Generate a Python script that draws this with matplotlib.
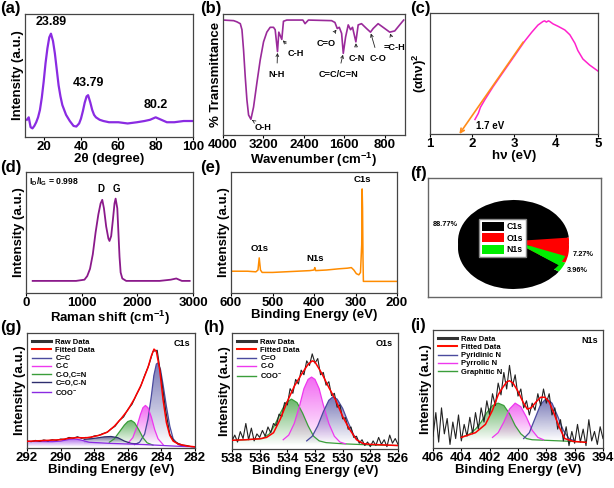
import numpy as np
import matplotlib.pyplot as plt
import matplotlib.colors as mcolors
import matplotlib.patheffects as pe
from matplotlib.lines import Line2D
from matplotlib.patches import Patch

plt.rcParams.update({
    'font.family': ['Liberation Sans', 'DejaVu Sans'],
    'font.weight': 'bold',
    'axes.labelweight': 'bold',
    'mathtext.fontset': 'custom',
    'mathtext.rm': 'Liberation Sans:bold',
    'mathtext.it': 'Liberation Sans:bold',
    'mathtext.bf': 'Liberation Sans:bold',
    'mathtext.default': 'rm',
})

# ---------------- (a) XRD ----------------
xrd_x = [11, 12, 13, 14, 15, 16, 17, 18, 19, 20, 21, 22, 23, 23.9, 25, 26, 27, 28, 29, 30,
         32, 34, 36, 37.5, 39, 40, 41, 42, 43, 43.8, 45, 46, 47, 48, 50, 52, 55, 60, 65, 70,
         74, 77, 80, 83, 86, 90, 95, 100]
xrd_y = [0.14, 0.16, 0.08, 0.07, 0.09, 0.12, 0.16, 0.22, 0.32, 0.45, 0.60, 0.72, 0.81, 0.84,
         0.78, 0.68, 0.55, 0.42, 0.33, 0.26, 0.18, 0.13, 0.09, 0.085, 0.11, 0.15, 0.21, 0.28,
         0.33, 0.34, 0.28, 0.22, 0.18, 0.16, 0.14, 0.13, 0.12, 0.12, 0.11, 0.12, 0.13, 0.14,
         0.16, 0.14, 0.12, 0.12, 0.13, 0.13]
xrd_peaks = [23.89, 43.79, 80.2]
xrd_peak_labels = ['23.89', '43.79', '80.2']

# ---------------- (b) FTIR ----------------
ir_x = [4000, 3790, 3724, 3658, 3625, 3593, 3560, 3527, 3494, 3448, 3396, 3330, 3264, 3198,
        3133, 3067, 3001, 2968, 2922, 2896, 2837, 2804, 2738, 2420, 2377, 2311, 1852, 1786,
        1740, 1700, 1654, 1621, 1575, 1523, 1477, 1438, 1372, 1326, 1260, 1161, 1083, 1030,
        932, 833, 702, 603, 505, 426]
ir_y = [0.95, 0.945, 0.935, 0.92, 0.87, 0.70, 0.48, 0.29, 0.165, 0.13, 0.23, 0.43, 0.62,
        0.77, 0.85, 0.89, 0.89, 0.87, 0.69, 0.85, 0.79, 0.94, 0.95, 0.95, 0.92, 0.95, 0.945,
        0.93, 0.88, 0.89, 0.84, 0.675, 0.81, 0.91, 0.87, 0.89, 0.77, 0.91, 0.92, 0.88, 0.85,
        0.88, 0.92, 0.89, 0.85, 0.86, 0.91, 0.95]
ir_bands = ['O-H', 'N-H', 'C-H', 'C=O', 'C=C/C=N', 'C-N', 'C-O', '=C-H']
ir_band_pos = [(3448, 0.13), (2922, 0.69), (2837, 0.79), (1740, 0.88), (1621, 0.675),
               (1372, 0.77), (1083, 0.85), (702, 0.85)]

# ---------------- (c) Tauc ----------------
tauc_x = [2.07, 2.15, 2.2, 2.3, 2.5, 2.7, 2.9, 3.1, 3.26, 3.42, 3.57, 3.69, 3.73, 3.77, 3.82,
          3.85, 3.93, 4.05, 4.21, 4.33, 4.45, 4.52, 4.64, 4.8, 5.0]
tauc_y = [0.12, 0.17, 0.22, 0.28, 0.39, 0.49, 0.59, 0.69, 0.77, 0.84, 0.90, 0.93, 0.935, 0.925,
          0.935, 0.93, 0.91, 0.89, 0.86, 0.82, 0.75, 0.69, 0.62, 0.57, 0.52]
band_gap = 1.7
tangent_top = (3.22, 0.76)

# ---------------- (d) Raman ----------------
raman_x = [120, 300, 500, 700, 900, 1050, 1100, 1150, 1200, 1250, 1300, 1340, 1370, 1400, 1440,
           1480, 1500, 1530, 1560, 1590, 1610, 1640, 1660, 1680, 1700, 1730, 1800, 2000, 2200,
           2400, 2600, 2700, 2800, 2940]
raman_y = [0.10, 0.10, 0.10, 0.10, 0.10, 0.11, 0.14, 0.20, 0.32, 0.50, 0.65, 0.74, 0.77, 0.70,
           0.55, 0.45, 0.43, 0.47, 0.60, 0.74, 0.78, 0.70, 0.50, 0.30, 0.17, 0.12, 0.10, 0.10,
           0.10, 0.10, 0.11, 0.12, 0.10, 0.10]
id_ig = 0.998

# ---------------- (e) XPS survey ----------------
xps_x = [600, 560, 540, 535, 532, 529, 525, 500, 470, 440, 410, 400, 398, 396, 370, 340, 320,
         310, 304, 298, 292, 288, 285, 284, 283, 282, 281, 200]
xps_y = [0.18, 0.18, 0.175, 0.19, 0.29, 0.19, 0.17, 0.17, 0.175, 0.18, 0.185, 0.19, 0.21,
         0.185, 0.19, 0.20, 0.205, 0.21, 0.19, 0.16, 0.15, 0.17, 0.40, 0.86, 0.70, 0.30,
         0.096, 0.096]
xps_labels = ['O1s', 'N1s', 'C1s']
xps_label_pos = [(531, 0.30), (398, 0.22), (284, 0.87)]

# ---------------- (f) composition ----------------
elements = ['C1s', 'O1s', 'N1s']
atomic_pct = [88.77, 7.27, 3.96]
pie_colors = ['black', 'red', '#00ee00']

# ---------------- (g) C1s ----------------
c1s_raw_x = [292, 291.75, 291.5, 291.25, 291, 290.75, 290.5, 290.25, 290, 289.75, 289.5, 289.25,
             289, 288.75, 288.5, 288.25, 288, 287.75, 287.5, 287.25, 287, 286.75, 286.5, 286.25,
             286, 285.75, 285.5, 285.25, 285, 284.75, 284.5, 284.25, 284, 283.75, 283.5, 283.25,
             283, 282.75, 282.5, 282.25, 282]
c1s_raw = [0.06, 0.055, 0.066, 0.058, 0.07, 0.062, 0.072, 0.066, 0.078, 0.074, 0.092, 0.085,
           0.098, 0.084, 0.092, 0.088, 0.105, 0.108, 0.125, 0.135, 0.165, 0.19, 0.24, 0.27,
           0.335, 0.38, 0.46, 0.53, 0.63, 0.72, 0.84, 0.85, 0.60, 0.33, 0.12, 0.06, 0.04,
           0.025, 0.022, 0.012, 0.01]
c1s_fit_x = [292, 291, 290, 289.5, 289, 288.5, 288, 287.6, 287.2, 286.8, 286.4, 286, 285.6,
             285.2, 284.8, 284.6, 284.44, 284.3, 284.1, 283.9, 283.7, 283.5, 283.3, 283, 282.5, 282]
c1s_fit = [0.058, 0.065, 0.072, 0.085, 0.09, 0.088, 0.1, 0.115, 0.14, 0.19, 0.255, 0.33, 0.43,
           0.55, 0.70, 0.80, 0.86, 0.84, 0.68, 0.42, 0.22, 0.11, 0.06, 0.035, 0.018, 0.01]
cc_x = [285.6, 285.3, 285.0, 284.8, 284.6, 284.45, 284.3, 284.2, 284.05, 283.9, 283.7, 283.5,
        283.3, 283.0, 282.7]
cc_y = [0.03, 0.05, 0.12, 0.25, 0.45, 0.63, 0.73, 0.74, 0.68, 0.55, 0.36, 0.19, 0.08, 0.03, 0.015]
csc_x = [286.0, 285.7, 285.45, 285.25, 285.1, 284.95, 284.8, 284.6, 284.4, 284.2, 283.9]
csc_y = [0.04, 0.09, 0.19, 0.29, 0.35, 0.37, 0.35, 0.27, 0.16, 0.08, 0.03]
co_x = [287.1, 286.8, 286.5, 286.2, 286.0, 285.8, 285.6, 285.35, 285.1, 284.85, 284.5]
co_y = [0.05, 0.08, 0.14, 0.20, 0.23, 0.24, 0.22, 0.16, 0.09, 0.045, 0.025]
cdo_x = [288.6, 288.2, 287.8, 287.4, 287.0, 286.6, 286.2, 285.8, 285.4]
cdo_y = [0.075, 0.08, 0.088, 0.097, 0.10, 0.09, 0.06, 0.04, 0.035]
coo_x = [292, 290.5, 290, 289.5, 289.2, 288.8, 288.3, 287, 285, 283, 282]
coo_y = [0.058, 0.055, 0.06, 0.075, 0.08, 0.07, 0.05, 0.04, 0.03, 0.015, 0.01]

# ---------------- (h) O1s ----------------
o1s_raw_x = [538.0, 537.8, 537.6, 537.4, 537.2, 537.0, 536.8, 536.6, 536.4, 536.2, 536.0, 535.8,
             535.6, 535.4, 535.2, 535.0, 534.8, 534.6, 534.4, 534.2, 534.0, 533.8, 533.6, 533.4,
             533.2, 533.0, 532.8, 532.6, 532.4, 532.2, 532.0, 531.8, 531.6, 531.4, 531.2, 531.0,
             530.8, 530.6, 530.4, 530.2, 530.0, 529.8, 529.6, 529.4, 529.2, 529.0, 528.8, 528.6,
             528.4, 528.2, 528.0, 527.8, 527.6, 527.4, 527.2, 527.0, 526.8, 526.6, 526.4, 526.2,
             526.0]
o1s_raw = [0.07, 0.12, 0.06, 0.15, 0.09, 0.22, 0.08, 0.18, 0.07, 0.13, 0.10, 0.16, 0.11, 0.19,
           0.14, 0.22, 0.20, 0.30, 0.28, 0.40, 0.38, 0.52, 0.48, 0.60, 0.56, 0.68, 0.64, 0.76,
           0.72, 0.82, 0.74, 0.78, 0.64, 0.66, 0.55, 0.58, 0.46, 0.48, 0.36, 0.38, 0.26, 0.27,
           0.17, 0.19, 0.10, 0.11, 0.05, 0.08, 0.03, 0.06, 0.02, 0.07, 0.03, 0.10, 0.04, 0.08,
           0.02, 0.12, 0.05, 0.09, 0.04]
o1s_fit_x = [538, 537, 536, 535.5, 535, 534.5, 534, 533.5, 533, 532.5, 532.2, 532, 531.5, 531,
             530.5, 530, 529.5, 529, 528.5, 528, 527, 526]
o1s_fit = [0.075, 0.08, 0.088, 0.10, 0.14, 0.26, 0.41, 0.54, 0.64, 0.73, 0.76, 0.75, 0.65, 0.53,
           0.42, 0.28, 0.17, 0.08, 0.046, 0.04, 0.035, 0.03]
ocdo_x = [532.6, 532.2, 531.8, 531.4, 531.0, 530.7, 530.4, 530.0, 529.6, 529.2, 528.8, 528.4]
ocdo_y = [0.07, 0.11, 0.20, 0.32, 0.42, 0.45, 0.43, 0.35, 0.23, 0.12, 0.06, 0.04]
oco_x = [534.3, 533.9, 533.5, 533.1, 532.8, 532.5, 532.25, 532.0, 531.7, 531.4, 531.0, 530.6,
         530.2, 529.8]
oco_y = [0.08, 0.12, 0.22, 0.38, 0.52, 0.60, 0.62, 0.60, 0.52, 0.38, 0.22, 0.11, 0.06, 0.045]
ocoo_x = [538, 537, 535.8, 535.3, 534.9, 534.5, 534.1, 533.7, 533.3, 532.9, 532.5, 532.1, 531.7,
          531.2, 530, 528, 526]
ocoo_y = [0.075, 0.08, 0.09, 0.13, 0.21, 0.31, 0.40, 0.43, 0.40, 0.31, 0.20, 0.11, 0.07, 0.055,
          0.045, 0.035, 0.03]

# ---------------- (i) N1s ----------------
n1s_raw_x = [406.0, 405.8, 405.6, 405.4, 405.2, 405.0, 404.8, 404.6, 404.4, 404.2, 404.0, 403.8,
             403.6, 403.4, 403.2, 403.0, 402.8, 402.6, 402.4, 402.2, 402.0, 401.8, 401.6, 401.4,
             401.2, 401.0, 400.8, 400.6, 400.4, 400.2, 400.0, 399.8, 399.6, 399.4, 399.2, 399.0,
             398.8, 398.6, 398.4, 398.2, 398.0, 397.8, 397.6, 397.4, 397.2, 397.0, 396.8, 396.6,
             396.4, 396.2, 396.0, 395.8, 395.6, 395.4, 395.2, 395.0, 394.8, 394.6, 394.4, 394.2,
             394.0]
n1s_raw = [0.10, 0.30, 0.05, 0.34, 0.12, 0.25, 0.03, 0.22, 0.08, 0.28, 0.06, 0.20, 0.10, 0.26,
           0.12, 0.30, 0.16, 0.34, 0.22, 0.40, 0.28, 0.46, 0.36, 0.55, 0.45, 0.64, 0.50, 0.70,
           0.52, 0.62, 0.44, 0.50, 0.34, 0.40, 0.28, 0.38, 0.32, 0.46, 0.36, 0.50, 0.38, 0.46,
           0.28, 0.34, 0.16, 0.24, 0.06, 0.18, 0.02, 0.14, 0.04, 0.20, 0.05, 0.16, 0.02, 0.24,
           0.06, 0.14, 0.03, 0.18, 0.08]
n1s_fit_x = [404, 403, 402.3, 401.8, 401.4, 401.15, 400.8, 400.6, 400.35, 400.0, 399.65, 399.35,
             399.07, 398.73, 398.4, 398.1, 397.8, 397.45, 397.1, 396.7, 396.1, 395.2]
n1s_fit = [0.09, 0.13, 0.20, 0.32, 0.45, 0.50, 0.56, 0.57, 0.55, 0.48, 0.39, 0.33, 0.34, 0.39,
           0.43, 0.43, 0.39, 0.29, 0.18, 0.08, 0.056, 0.048]
npyd_x = [399.6, 399.2, 398.8, 398.4, 398.0, 397.6, 397.2, 396.8, 396.4, 396.0]
npyd_y = [0.08, 0.13, 0.25, 0.37, 0.42, 0.38, 0.27, 0.15, 0.08, 0.06]
npyr_x = [401.8, 401.4, 401.0, 400.6, 400.2, 399.8, 399.4, 399.0, 398.6, 398.2]
npyr_y = [0.09, 0.13, 0.22, 0.33, 0.38, 0.35, 0.26, 0.15, 0.09, 0.07]
ngra_x = [404.0, 403.4, 403.0, 402.6, 402.2, 401.8, 401.4, 401.0, 400.6, 400.2, 399.8, 399.4,
          399.0, 397, 395.2]
ngra_y = [0.09, 0.12, 0.16, 0.22, 0.30, 0.36, 0.38, 0.36, 0.29, 0.19, 0.12, 0.08, 0.07, 0.06,
          0.05]

NAVY = '#4a4a9e'
DNAVY = '#2e2e6e'
MAG = '#ee38ee'
GRN = '#3a9e3a'
PURP = '#8a2be2'

W, H = 614, 488
fig = plt.figure(figsize=(6.14, 4.88), dpi=100)


def panel(l, t, r, b):
    return fig.add_axes([l / W, 1 - b / H, (r - l) / W, (b - t) / H])


def style(ax, xlim, xticks, xlabel, ylabel):
    ax.set_xlim(*xlim)
    ax.set_ylim(0, 1)
    ax.set_xticks(xticks)
    ax.set_yticks([])
    ax.tick_params(axis='x', labelsize=9.5, length=2, width=0.8, pad=1)
    ax.set_xlabel(xlabel, fontsize=9.5, labelpad=0)
    ax.set_ylabel(ylabel, fontsize=9.5, labelpad=1)
    for s in ax.spines.values():
        s.set_color('#444444')
        s.set_linewidth(0.9)


def grad_fill(ax, x, y, color):
    x = np.asarray(x)
    y = np.asarray(y)
    base = y.min()
    poly = ax.fill_between(x, y, base, facecolor='none', edgecolor='none')
    grad = np.zeros((64, 1, 4))
    grad[..., :3] = mcolors.to_rgb(color)
    grad[:, 0, 3] = np.linspace(0.0, 0.75, 64)
    im = ax.imshow(grad, extent=[x.min(), x.max(), base, y.max()], origin='lower',
                   aspect='auto', zorder=1)
    im.set_clip_path(poly.get_paths()[0], transform=ax.transData)


fit_fx = [pe.Stroke(linewidth=1.5, foreground='#ff9900'), pe.Normal()]


def xps_fit(ax, comps, raw_x, raw_y, fit_x, fit_y, title, order):
    handles = {'Raw Data': Line2D([], [], color='#333333', lw=2.2),
               'Fitted Data': Line2D([], [], color='red', lw=1.3, path_effects=fit_fx)}
    for x, y, c, lab in comps:
        grad_fill(ax, x, y, c)
        ax.plot(x, y, color=c, lw=0.9, zorder=2)
        handles[lab] = Line2D([], [], color=c, lw=1.0)
    ax.plot(raw_x, raw_y, color='#222222', lw=0.8, zorder=3)
    ax.plot(fit_x, fit_y, color='red', lw=1.1, zorder=4)
    ax.legend([handles[k] for k in order], order, loc='upper left', frameon=False, fontsize=5.5,
              handlelength=2.4, labelspacing=0.12, borderaxespad=0.3, handletextpad=0.6)
    ax.text(0.97, 0.95, title, transform=ax.transAxes, ha='right', va='top', fontsize=6.5)


# (a)
ax = panel(25, 14, 193, 137)
ax.plot(xrd_x, xrd_y, color=PURP, lw=1.6)
for px, lab in zip(xrd_peaks, xrd_peak_labels):
    yi = np.interp(px, xrd_x, xrd_y)
    ax.text(px, yi + 0.05, lab, ha='center', va='bottom', fontsize=9)
style(ax, (10, 100), [20, 40, 60, 80, 100], '2θ (degree)', 'Intensity (a.u.)')

# (b)
ax = panel(223, 14, 405, 135)
ax.plot(ir_x, ir_y, color='#9a2a9a', lw=1.2)
ir_text_pos = [(3200, 0.06), (2935, 0.50), (2550, 0.67), (1950, 0.76), (1720, 0.50),
               (1360, 0.63), (930, 0.63), (600, 0.72)]
for lab, xy, xt in zip(ir_bands, ir_band_pos, ir_text_pos):
    ax.annotate(lab, xy=xy, xytext=xt, fontsize=6.6, ha='center', va='center',
                arrowprops=dict(arrowstyle='->', lw=0.6, color='#222222',
                                shrinkA=3, shrinkB=1, mutation_scale=5))
style(ax, (4000, 400), [4000, 3200, 2400, 1600, 800], 'Wavenumber (cm$^{-1}$)',
      '% Transmittance')

# (c)
ax = panel(430, 13, 598, 134)
ax.plot(tauc_x, tauc_y, color='#ff22cc', lw=1.1)
ax.annotate('', xy=(band_gap, 0.0), xytext=tangent_top,
            arrowprops=dict(arrowstyle='->', color='#ff8c1a', lw=1.2, shrinkA=0, shrinkB=0,
                            mutation_scale=7))
ax.text(2.1, 0.07, '%.1f eV' % band_gap, fontsize=7, ha='left', va='center')
style(ax, (1, 5), [1, 2, 3, 4, 5], 'hν (eV)', '(αhν)$^2$')

# (d)
ax = panel(26, 172, 193, 293)
ax.plot(raman_x, raman_y, color='#8b1a8b', lw=1.3)
ax.text(1350, 0.82, 'D', ha='center', va='bottom', fontsize=7)
ax.text(1620, 0.82, 'G', ha='center', va='bottom', fontsize=7)
ax.text(0.02, 0.97, r'$\mathrm{I_D/I_G}$ = %.3f' % id_ig, transform=ax.transAxes,
        ha='left', va='top', fontsize=6.2)
style(ax, (0, 3000), [0, 1000, 2000, 3000], 'Raman shift (cm$^{-1}$)', 'Intensity (a.u.)')

# (e)
ax = panel(231, 172, 397, 293)
ax.plot(xps_x, xps_y, color='#ff8c00', lw=1.1)
for lab, (lx, ly) in zip(xps_labels, xps_label_pos):
    ax.text(lx, ly + 0.03, lab, ha='center', va='bottom', fontsize=6.8)
style(ax, (600, 200), [600, 500, 400, 300, 200], 'Binding Energy (eV)', 'Intensity (a.u.)')

# (f)
axf = panel(428, 178, 601, 297)
axf.set_xticks([])
axf.set_yticks([])
for s in axf.spines.values():
    s.set_color('#666666')
    s.set_linewidth(1.0)
axp = panel(458, 200, 569, 289)
axp.pie(atomic_pct, colors=pie_colors, startangle=-35.4, counterclock=False,
        center=(0, -0.16), wedgeprops=dict(linewidth=0))
axp.pie(atomic_pct, colors=pie_colors, startangle=-35.4, counterclock=False,
        wedgeprops=dict(linewidth=0))
axp.set_aspect('auto')
axp.set_xlim(-1, 1)
axp.set_ylim(-1.16, 1)
axp.axis('off')
axp.legend(handles=[Patch(facecolor=c, label=l) for c, l in zip(pie_colors, elements)],
           loc='upper left', bbox_to_anchor=(475 / W, 1 - 215 / H), bbox_transform=fig.transFigure,
           fontsize=6.2, handlelength=2.6, handleheight=1.2, labelspacing=0.25, borderpad=0.3,
           handletextpad=0.3, fancybox=False, edgecolor='#888888', framealpha=1)
pct_pos = [(445, 225), (583, 255), (577, 270)]
for p, (px, py) in zip(atomic_pct, pct_pos):
    fig.text(px / W, 1 - py / H, '%.2f%%' % p, ha='center', va='center', fontsize=5.3)

# (g)
ax = panel(27, 333, 195, 448)
xps_fit(ax, [(cc_x, cc_y, NAVY, 'C=C'), (csc_x, csc_y, MAG, 'C-C'),
             (co_x, co_y, GRN, 'C-O,C=N'), (cdo_x, cdo_y, DNAVY, 'C=O,C-N'),
             (coo_x, coo_y, PURP, 'COO$^{-}$')],
        c1s_raw_x, c1s_raw, c1s_fit_x, c1s_fit, 'C1s',
        ['Raw Data', 'Fitted Data', 'C=C', 'C-C', 'C-O,C=N', 'C=O,C-N', 'COO$^{-}$'])
style(ax, (292, 282), [292, 290, 288, 286, 284, 282], 'Binding Energy (eV)', 'Intensity (a.u.)')

# (h)
ax = panel(232, 333, 398, 449)
xps_fit(ax, [(ocoo_x, ocoo_y, GRN, 'COO$^{-}$'), (oco_x, oco_y, MAG, 'C-O'),
             (ocdo_x, ocdo_y, NAVY, 'C=O')],
        o1s_raw_x, o1s_raw, o1s_fit_x, o1s_fit, 'O1s',
        ['Raw Data', 'Fitted Data', 'C=O', 'C-O', 'COO$^{-}$'])
style(ax, (538, 526), [538, 536, 534, 532, 530, 528, 526], 'Binding Energy (eV)',
      'Intensity (a.u.)')

# (i)
ax = panel(433, 330, 603, 448)
xps_fit(ax, [(ngra_x, ngra_y, GRN, 'Graphitic N'), (npyr_x, npyr_y, MAG, 'Pyrrolic N'),
             (npyd_x, npyd_y, NAVY, 'Pyridinic N')],
        n1s_raw_x, n1s_raw, n1s_fit_x, n1s_fit, 'N1s',
        ['Raw Data', 'Fitted Data', 'Pyridinic N', 'Pyrrolic N', 'Graphitic N'])
style(ax, (406, 394), [406, 404, 402, 400, 398, 396, 394], 'Binding Energy (eV)',
      'Intensity (a.u.)')

# panel letters
letters = ['(a)', '(b)', '(c)', '(d)', '(e)', '(f)', '(g)', '(h)', '(i)']
letter_pos = [(0, 1), (200, 1), (410, 1), (0, 160), (200, 160), (410, 166), (0, 320),
              (203, 320), (410, 318)]
for lab, (px, py) in zip(letters, letter_pos):
    fig.text(px / W, 1 - py / H, lab, ha='left', va='top', fontsize=12)

fig.savefig('out.png', dpi=100)
